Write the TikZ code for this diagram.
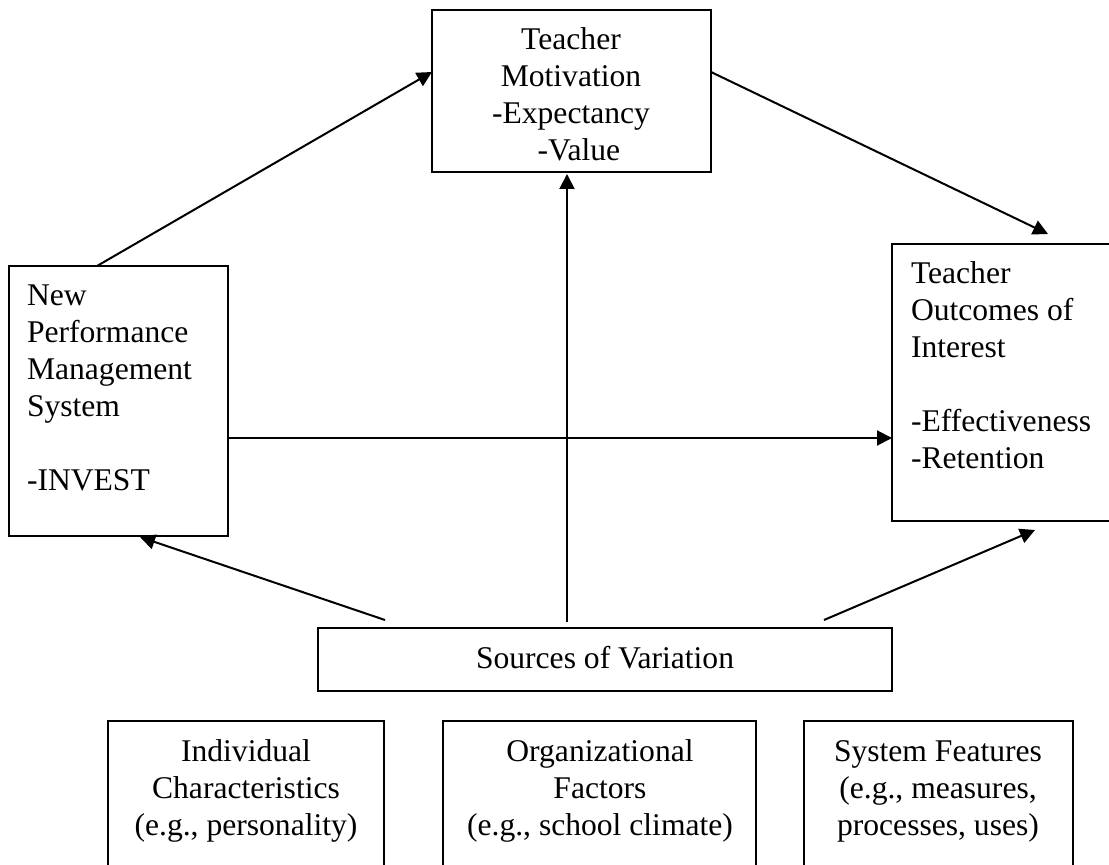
\documentclass[tikz,border=0pt]{standalone}
\usepackage{fontspec}
\setmainfont{Liberation Serif}
\usetikzlibrary{arrows.meta,calc}
\begin{document}
\begin{tikzpicture}[x=0.5pt,y=-0.5pt,
  box/.style={draw, line width=1pt, inner sep=0pt, outer sep=0pt, anchor=north west},
  txt/.style={inner sep=0pt, outer sep=0pt, font=\fontsize{15.8}{18.5}\selectfont},
  arr/.style={line width=1pt, -{Triangle[length=7.5pt,width=7.5pt]}}]
\useasboundingbox (0,0) rectangle (1109,865);
% boxes
\node[box, minimum width=139.5pt, minimum height=81pt] (tm) at (432,10) {};
\node[box, minimum width=109.75pt, minimum height=135pt] (npm) at (8.5,266) {};
\node[box, minimum width=110pt, minimum height=138.5pt] (to) at (892,244) {};
\node[box, minimum width=287pt, minimum height=31.5pt] (src) at (318,628) {};
\node[box, minimum width=138.25pt, minimum height=74.5pt] (ind) at (107.5,721) {};
\node[box, minimum width=156.5pt, minimum height=74.5pt] (org) at (443,721) {};
\node[box, minimum width=134.5pt, minimum height=74.5pt] (sys) at (804,721) {};
% texts
\node[txt, align=center, anchor=north] (tmtxt) at (571,24) {\strut Teacher\\Motivation\\-Expectancy\\\hspace*{0.5em}-Value};
\node[txt, align=left, anchor=north west] (npmtxt) at (27,280) {\strut New\\Performance\\Management\\System\\\mbox{}\\-INVEST};
\node[txt, align=left, anchor=north west] (totxt) at (911,258) {\strut Teacher\\Outcomes of\\Interest\\\mbox{}\\-Effectiveness\\-Retention};
\node[txt, align=center, anchor=north] (srctxt) at (605,643) {\strut Sources of Variation};
\node[txt, align=center, anchor=north] (indtxt) at (246,736) {\strut Individual\\Characteristics\\(e.g., personality)};
\node[txt, align=center, anchor=north] (orgtxt) at (600,736) {\strut Organizational\\Factors\\(e.g., school climate)};
\node[txt, align=center, anchor=north] (systxt) at (938,736) {\strut System Features\\(e.g., measures,\\processes, uses)};
% connectors
\draw[arr] ($(npm.north west)+(88.5,0)$) -- ($(tm.north west)+(0,62)$);
\draw[arr] ($(tm.north east)+(0,62)$) -- ($(to.north west)+(156,-10)$);
\draw[arr] ($(src.north west)+(249,-6)$) -- ($(tm.south west)+(135,2)$);
\draw[arr] ($(npm.north east)+(0,172)$) -- ($(to.north west)+(0,194)$);
\draw[arr] ($(src.north west)+(67,-8)$) -- ($(npm.south west)+(131.5,1)$);
\draw[arr] ($(src.north west)+(506,-8)$) -- ($(to.south west)+(143,9)$);
\end{tikzpicture}
\end{document}
